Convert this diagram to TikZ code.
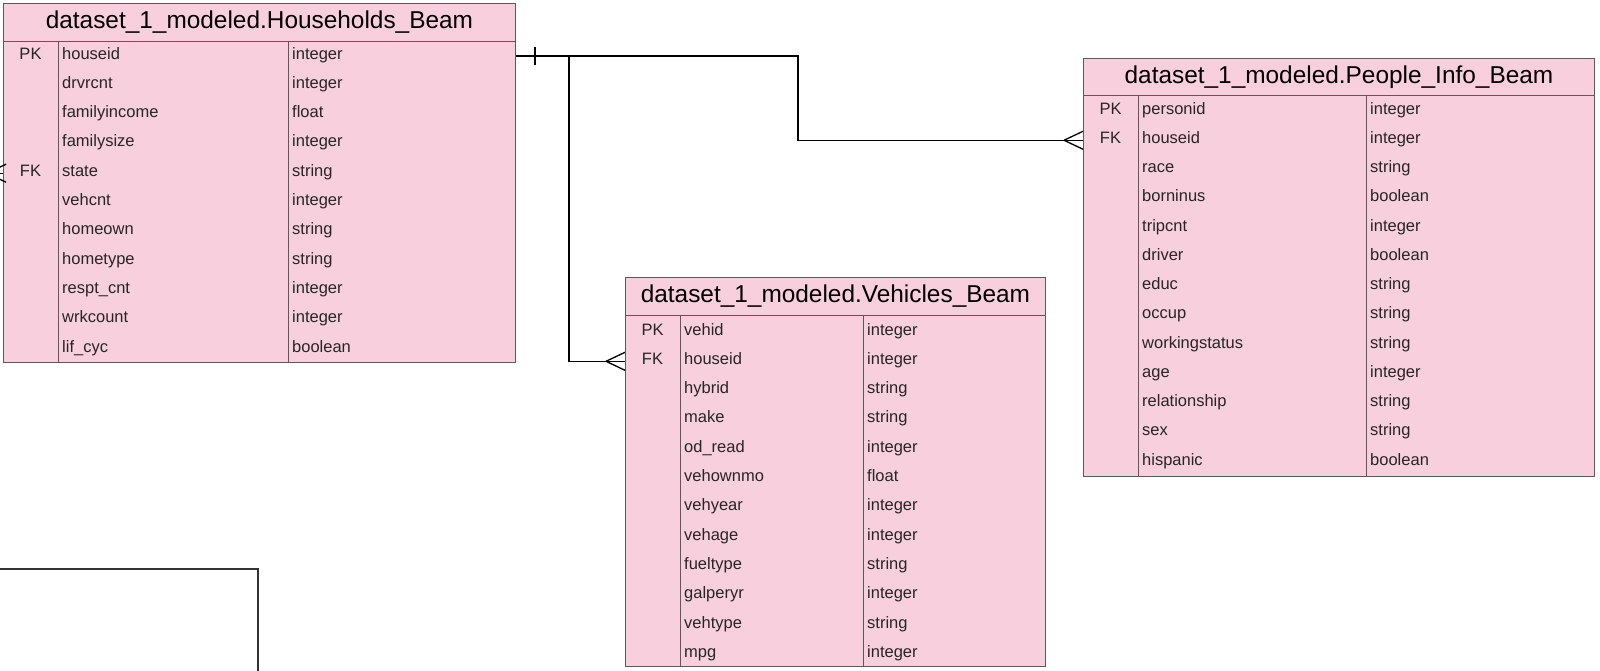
\documentclass[tikz,border=0pt]{standalone}
\usepackage{fontspec}
\setmainfont{Liberation Sans}
\usetikzlibrary{calc}
\usetikzlibrary{positioning}
\definecolor{tblpink}{HTML}{F8CFDC}
\definecolor{tblline}{HTML}{5A5A5A}
\tikzstyle{tblhead}=[draw=tblline,fill=tblpink,line width=0.9pt,anchor=north west,
                inner sep=0,font=\fontsize{24.4}{26}\selectfont]
\tikzstyle{tblbody}=[draw=tblline,fill=tblpink,line width=0.9pt,anchor=north west,inner sep=0]
\tikzstyle{keycell}=[inner sep=0,text height=12pt,text depth=0pt,text=black!85,
                font=\fontsize{16.5}{18}\selectfont]
\tikzstyle{fieldcell}=[keycell,anchor=west]
\tikzstyle{colsep}=[draw=tblline,line width=0.9pt]
\tikzstyle{rel}=[draw=black,line width=1.3pt]

\begin{document}
\begin{tikzpicture}[x=1pt,y=-1pt]
\clip (0,0) rectangle (1600,670);
% households table
\node[tblhead,minimum width=512pt,minimum height=38pt] (hh) at (3,3) {dataset\_1\_modeled.Households\_Beam};
\node[tblbody,minimum width=512pt,minimum height=321pt] (hb) at (3,41) {};
\draw[colsep] ($(hb.north west)+(55,0)$) -- ($(hb.south west)+(55,0)$);
\draw[colsep] ($(hb.north west)+(285,0)$) -- ($(hb.south west)+(285,0)$);
\foreach \n/\t [count=\i] in {houseid/integer,drvrcnt/integer,familyincome/float,
    familysize/integer,state/string,vehcnt/integer,homeown/string,hometype/string,
    respt\_cnt/integer,wrkcount/integer,lif\_cyc/boolean}{
  \node[fieldcell] (hn\i) at ({62},{23.7+29.3*\i}) {\n};
  \node[fieldcell] (ht\i) at ({292},{23.7+29.3*\i}) {\t};
}
\node[keycell] (hpk) at ($(hb.west |- hn1)+(27.5,0)$) {PK};
\node[keycell] (hfk) at ($(hb.west |- hn5)+(27.5,0)$) {FK};

% people table
\node[tblhead,minimum width=511pt,minimum height=37pt] (ph) at (1083,58) {dataset\_1\_modeled.People\_Info\_Beam};
\node[tblbody,minimum width=511pt,minimum height=381pt] (pb) at (1083,95) {};
\draw[colsep] ($(pb.north west)+(55,0)$) -- ($(pb.south west)+(55,0)$);
\draw[colsep] ($(pb.north west)+(283,0)$) -- ($(pb.south west)+(283,0)$);
\foreach \n/\t [count=\i] in {personid/integer,houseid/integer,race/string,
    borninus/boolean,tripcnt/integer,driver/boolean,educ/string,occup/string,
    workingstatus/string,age/integer,relationship/string,sex/string,hispanic/boolean}{
  \node[fieldcell] (pn\i) at ({1142},{78.74+29.26*\i}) {\n};
  \node[fieldcell] (pt\i) at ({1370},{78.74+29.26*\i}) {\t};
}
\node[keycell] (ppk) at ($(pb.west |- pn1)+(27.5,0)$) {PK};
\node[keycell] (pfk) at ($(pb.west |- pn2)+(27.5,0)$) {FK};

% vehicles table
\node[tblhead,minimum width=420pt,minimum height=38pt] (vh) at (625,277) {dataset\_1\_modeled.Vehicles\_Beam};
\node[tblbody,minimum width=420pt,minimum height=351pt] (vb) at (625,315) {};
\draw[colsep] ($(vb.north west)+(55,0)$) -- ($(vb.south west)+(55,0)$);
\draw[colsep] ($(vb.north west)+(238,0)$) -- ($(vb.south west)+(238,0)$);
\foreach \n/\t [count=\i] in {vehid/integer,houseid/integer,hybrid/string,
    make/string,od\_read/integer,vehownmo/float,vehyear/integer,vehage/integer,
    fueltype/string,galperyr/integer,vehtype/string,mpg/integer}{
  \node[fieldcell] (vn\i) at ({684},{299.7+29.3*\i}) {\n};
  \node[fieldcell] (vt\i) at ({867},{299.7+29.3*\i}) {\t};
}
\node[keycell] (vpk) at ($(vb.west |- vn1)+(27.5,0)$) {PK};
\node[keycell] (vfk) at ($(vb.west |- vn2)+(27.5,0)$) {FK};

% relations
\coordinate (pj) at (798,0);
\coordinate (vj) at (569,0);
\coordinate (hr) at ($(hb.east |- hn1)+(0,3)$);
\coordinate (pr) at ($(pb.west |- pn2)+(0,3)$);
\coordinate (vr) at ($(vb.west |- vn2)+(0,3)$);
\coordinate (hs) at ($(hb.west |- hn5)+(0,3)$);
\draw[rel] (hr) -| (pj |- pr) -- (pr);
\draw[rel] (vj |- hr) |- (vr);
\draw[rel] ($(hr)+(19,-9)$) -- ++(0,18);
\draw[rel] ($(pr)+(-19,0)$) -- ++(19,-9) ($(pr)+(-19,0)$) -- ++(19,9);
\draw[rel] ($(vr)+(-19,0)$) -- ++(19,-9) ($(vr)+(-19,0)$) -- ++(19,9);
\draw[rel] ($(hs)+(-40,0)$) -- (hs);
\draw[rel] ($(hs)+(-16,0)$) -- ++(19,-9) ($(hs)+(-16,0)$) -- ++(19,9);

% cut off box at bottom left
\draw[draw=black!80,line width=1.3pt] (-10,569) rectangle (258,700);
\end{tikzpicture}
\end{document}
